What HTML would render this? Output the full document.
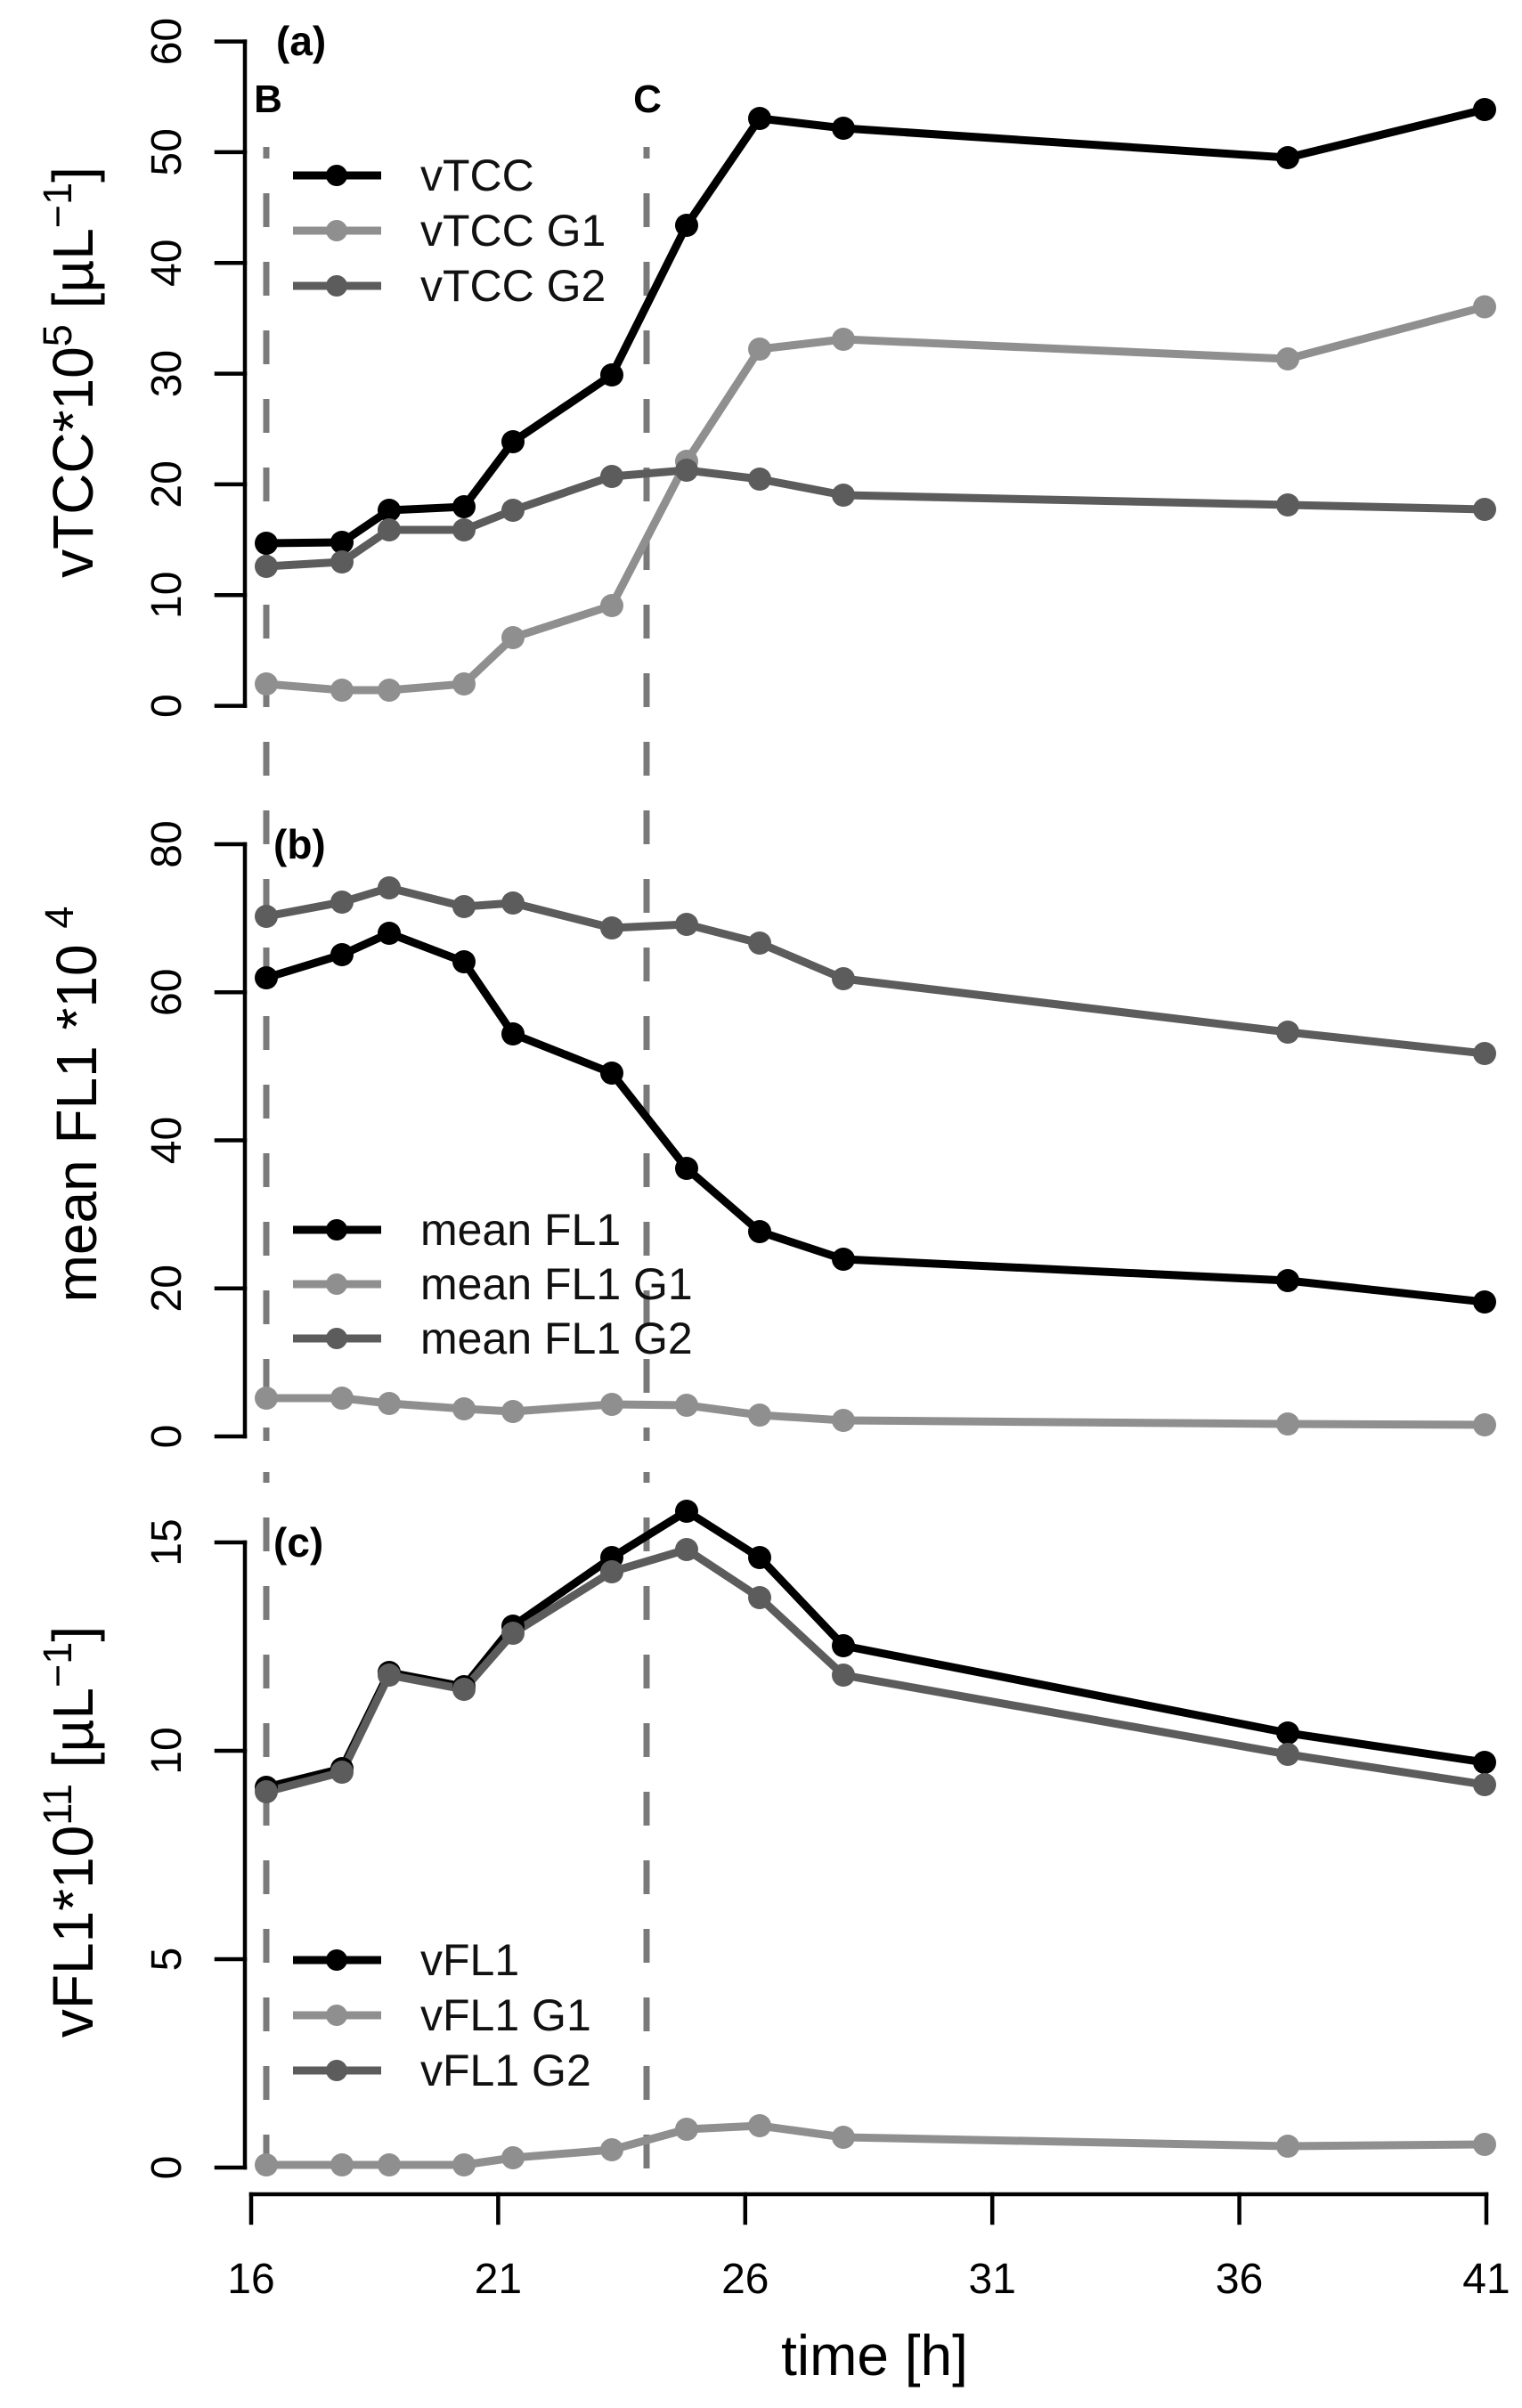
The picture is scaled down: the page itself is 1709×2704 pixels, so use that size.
<!DOCTYPE html>
<html><head><meta charset="utf-8">
<style>html,body{margin:0;padding:0;background:#fff}svg{display:block}</style>
</head>
<body>
<svg width="1709" height="2704" viewBox="0 0 1709 2704" xmlns="http://www.w3.org/2000/svg" font-family="'Liberation Sans', Arial, sans-serif">
<rect width="1709" height="2704" fill="#fff"/>

<!-- dashed vertical lines B and C -->
<g stroke="#7a7a7a" stroke-width="7" stroke-dasharray="38 39" fill="none">
  <line x1="299" y1="165" x2="299" y2="1618" stroke-dashoffset="25"/>
  <line x1="726" y1="165" x2="726" y2="1618" stroke-dashoffset="25"/>
  <line x1="299" y1="1653" x2="299" y2="2440" stroke-dashoffset="26"/>
  <line x1="726" y1="1653" x2="726" y2="2440" stroke-dashoffset="26"/>
</g>
<g font-weight="bold" font-size="44" text-anchor="middle" fill="#000">
  <text x="301" y="126">B</text>
  <text x="727" y="126">C</text>
</g>

<!-- ============ Panel (a) ============ -->
<g stroke="#000" stroke-width="4.5" fill="none" stroke-linecap="square">
  <line x1="275" y1="46.6" x2="275" y2="792.6"/>
  <line x1="243" y1="792.6" x2="275" y2="792.6"/>
  <line x1="243" y1="668.3" x2="275" y2="668.3"/>
  <line x1="243" y1="543.9" x2="275" y2="543.9"/>
  <line x1="243" y1="419.6" x2="275" y2="419.6"/>
  <line x1="243" y1="295.3" x2="275" y2="295.3"/>
  <line x1="243" y1="170.9" x2="275" y2="170.9"/>
  <line x1="243" y1="46.6" x2="275" y2="46.6"/>
</g>
<g font-size="48" text-anchor="middle" fill="#000">
  <text transform="translate(203,792.6) rotate(-90)">0</text>
  <text transform="translate(203,668.3) rotate(-90)">10</text>
  <text transform="translate(203,543.9) rotate(-90)">20</text>
  <text transform="translate(203,419.6) rotate(-90)">30</text>
  <text transform="translate(203,295.3) rotate(-90)">40</text>
  <text transform="translate(203,170.9) rotate(-90)">50</text>
  <text transform="translate(203,46.6) rotate(-90)">60</text>
</g>
<text transform="translate(104,418) rotate(-90)" text-anchor="middle" font-size="64" fill="#000">vTCC*10<tspan dy="-24" font-size="45">5</tspan><tspan dy="24"> [µL</tspan><tspan dy="-24" font-size="45">−1</tspan><tspan dy="24">]</tspan></text>
<text x="310" y="62" font-size="46" font-weight="bold" fill="#000">(a)</text>

<g fill="none" stroke-width="9" stroke-linejoin="round">
  <polyline stroke="#000" points="299,610 384,609 437,573 521,569 576,496 687,421 771,253 853,133 947,144 1446,177 1667,123"/>
  <polyline stroke="#8f8f8f" points="299,768 384,775 437,775 521,768 576,716 687,680 771,518 853,392 947,381 1446,403 1667,344.5"/>
  <polyline stroke="#5c5c5c" points="299,636 384,631 437,595 521,595 576,573 687,535 771,528 853,538 947,556 1446,567 1667,572"/>
</g>
<g fill="#000">
  <circle cx="299" cy="610" r="13"/><circle cx="384" cy="609" r="13"/><circle cx="437" cy="573" r="13"/><circle cx="521" cy="569" r="13"/><circle cx="576" cy="496" r="13"/><circle cx="687" cy="421" r="13"/><circle cx="771" cy="253" r="13"/><circle cx="853" cy="133" r="13"/><circle cx="947" cy="144" r="13"/><circle cx="1446" cy="177" r="13"/><circle cx="1667" cy="123" r="13"/>
</g>
<g fill="#8f8f8f">
  <circle cx="299" cy="768" r="13"/><circle cx="384" cy="775" r="13"/><circle cx="437" cy="775" r="13"/><circle cx="521" cy="768" r="13"/><circle cx="576" cy="716" r="13"/><circle cx="687" cy="680" r="13"/><circle cx="771" cy="518" r="13"/><circle cx="853" cy="392" r="13"/><circle cx="947" cy="381" r="13"/><circle cx="1446" cy="403" r="13"/><circle cx="1667" cy="344.5" r="13"/>
</g>
<g fill="#5c5c5c">
  <circle cx="299" cy="636" r="13"/><circle cx="384" cy="631" r="13"/><circle cx="437" cy="595" r="13"/><circle cx="521" cy="595" r="13"/><circle cx="576" cy="573" r="13"/><circle cx="687" cy="535" r="13"/><circle cx="771" cy="528" r="13"/><circle cx="853" cy="538" r="13"/><circle cx="947" cy="556" r="13"/><circle cx="1446" cy="567" r="13"/><circle cx="1667" cy="572" r="13"/>
</g>
<!-- legend a -->
<g stroke-width="9">
  <line x1="329" y1="197" x2="428" y2="197" stroke="#000"/>
  <line x1="329" y1="259" x2="428" y2="259" stroke="#8f8f8f"/>
  <line x1="329" y1="321" x2="428" y2="321" stroke="#5c5c5c"/>
</g>
<circle cx="378" cy="197" r="12" fill="#000"/>
<circle cx="378" cy="259" r="12" fill="#8f8f8f"/>
<circle cx="378" cy="321" r="12" fill="#5c5c5c"/>
<g font-size="50" fill="#111">
  <text x="472" y="214">vTCC</text>
  <text x="472" y="276">vTCC G1</text>
  <text x="472" y="338">vTCC G2</text>
</g>

<!-- ============ Panel (b) ============ -->
<g stroke="#000" stroke-width="4.5" fill="none" stroke-linecap="square">
  <line x1="275" y1="948" x2="275" y2="1613"/>
  <line x1="243" y1="1613" x2="275" y2="1613"/>
  <line x1="243" y1="1446.75" x2="275" y2="1446.75"/>
  <line x1="243" y1="1280.5" x2="275" y2="1280.5"/>
  <line x1="243" y1="1114.25" x2="275" y2="1114.25"/>
  <line x1="243" y1="948" x2="275" y2="948"/>
</g>
<g font-size="48" text-anchor="middle" fill="#000">
  <text transform="translate(203,1613) rotate(-90)">0</text>
  <text transform="translate(203,1446.75) rotate(-90)">20</text>
  <text transform="translate(203,1280.5) rotate(-90)">40</text>
  <text transform="translate(203,1114.25) rotate(-90)">60</text>
  <text transform="translate(203,948) rotate(-90)">80</text>
</g>
<text transform="translate(108,1240) rotate(-90)" text-anchor="middle" font-size="64" fill="#000">mean FL1 *10 <tspan dy="-26" font-size="45">4</tspan></text>
<text x="307" y="964" font-size="46" font-weight="bold" fill="#000">(b)</text>

<g fill="none" stroke-width="9" stroke-linejoin="round">
  <polyline stroke="#000" points="299,1098 384,1072 437,1048 521,1080 576,1161 687,1205 771,1312 853,1383 947,1414 1446,1438 1667,1462"/>
  <polyline stroke="#8f8f8f" points="299,1570 384,1570 437,1576 521,1582 576,1585 687,1577 771,1578 853,1589 947,1595 1446,1599 1667,1600"/>
  <polyline stroke="#5c5c5c" points="299,1029 384,1013 437,997 521,1018 576,1014 687,1042 771,1038 853,1059 947,1099 1446,1159 1667,1183"/>
</g>
<g fill="#000">
  <circle cx="299" cy="1098" r="13"/><circle cx="384" cy="1072" r="13"/><circle cx="437" cy="1048" r="13"/><circle cx="521" cy="1080" r="13"/><circle cx="576" cy="1161" r="13"/><circle cx="687" cy="1205" r="13"/><circle cx="771" cy="1312" r="13"/><circle cx="853" cy="1383" r="13"/><circle cx="947" cy="1414" r="13"/><circle cx="1446" cy="1438" r="13"/><circle cx="1667" cy="1462" r="13"/>
</g>
<g fill="#8f8f8f">
  <circle cx="299" cy="1570" r="13"/><circle cx="384" cy="1570" r="13"/><circle cx="437" cy="1576" r="13"/><circle cx="521" cy="1582" r="13"/><circle cx="576" cy="1585" r="13"/><circle cx="687" cy="1577" r="13"/><circle cx="771" cy="1578" r="13"/><circle cx="853" cy="1589" r="13"/><circle cx="947" cy="1595" r="13"/><circle cx="1446" cy="1599" r="13"/><circle cx="1667" cy="1600" r="13"/>
</g>
<g fill="#5c5c5c">
  <circle cx="299" cy="1029" r="13"/><circle cx="384" cy="1013" r="13"/><circle cx="437" cy="997" r="13"/><circle cx="521" cy="1018" r="13"/><circle cx="576" cy="1014" r="13"/><circle cx="687" cy="1042" r="13"/><circle cx="771" cy="1038" r="13"/><circle cx="853" cy="1059" r="13"/><circle cx="947" cy="1099" r="13"/><circle cx="1446" cy="1159" r="13"/><circle cx="1667" cy="1183" r="13"/>
</g>
<!-- legend b -->
<g stroke-width="9">
  <line x1="329" y1="1381" x2="428" y2="1381" stroke="#000"/>
  <line x1="329" y1="1442" x2="428" y2="1442" stroke="#8f8f8f"/>
  <line x1="329" y1="1503" x2="428" y2="1503" stroke="#5c5c5c"/>
</g>
<circle cx="378" cy="1381" r="12" fill="#000"/>
<circle cx="378" cy="1442" r="12" fill="#8f8f8f"/>
<circle cx="378" cy="1503" r="12" fill="#5c5c5c"/>
<g font-size="50" fill="#111">
  <text x="472" y="1398">mean FL1</text>
  <text x="472" y="1459">mean FL1 G1</text>
  <text x="472" y="1520">mean FL1 G2</text>
</g>

<!-- ============ Panel (c) ============ -->
<g stroke="#000" stroke-width="4.5" fill="none" stroke-linecap="square">
  <line x1="275" y1="1732" x2="275" y2="2434"/>
  <line x1="243" y1="2434" x2="275" y2="2434"/>
  <line x1="243" y1="2200" x2="275" y2="2200"/>
  <line x1="243" y1="1966" x2="275" y2="1966"/>
  <line x1="243" y1="1732" x2="275" y2="1732"/>
</g>
<g font-size="48" text-anchor="middle" fill="#000">
  <text transform="translate(203,2434) rotate(-90)">0</text>
  <text transform="translate(203,2200) rotate(-90)">5</text>
  <text transform="translate(203,1966) rotate(-90)">10</text>
  <text transform="translate(203,1732) rotate(-90)">15</text>
</g>
<text transform="translate(104,2057) rotate(-90)" text-anchor="middle" font-size="64" fill="#000">vFL1*10<tspan dy="-24" font-size="45">11</tspan><tspan dy="24"> [µL</tspan><tspan dy="-24" font-size="45">−1</tspan><tspan dy="24">]</tspan></text>
<text x="307" y="1748" font-size="46" font-weight="bold" fill="#000">(c)</text>

<g fill="none" stroke-width="9" stroke-linejoin="round">
  <polyline stroke="#000" points="299,2007 384,1986 437,1878 521,1894 576,1826 687,1749 771,1697 853,1749 947,1848 1446,1946 1667,1979"/>
  <polyline stroke="#8f8f8f" points="299,2431 384,2431 437,2431 521,2431 576,2423 687,2414 771,2391 853,2387 947,2400 1446,2410 1667,2408"/>
  <polyline stroke="#5c5c5c" points="299,2012 384,1990 437,1881 521,1897 576,1834 687,1765 771,1740 853,1794 947,1881 1446,1970 1667,2004"/>
</g>
<g fill="#000">
  <circle cx="299" cy="2007" r="13"/><circle cx="384" cy="1986" r="13"/><circle cx="437" cy="1878" r="13"/><circle cx="521" cy="1894" r="13"/><circle cx="576" cy="1826" r="13"/><circle cx="687" cy="1749" r="13"/><circle cx="771" cy="1697" r="13"/><circle cx="853" cy="1749" r="13"/><circle cx="947" cy="1848" r="13"/><circle cx="1446" cy="1946" r="13"/><circle cx="1667" cy="1979" r="13"/>
</g>
<g fill="#8f8f8f">
  <circle cx="299" cy="2431" r="13"/><circle cx="384" cy="2431" r="13"/><circle cx="437" cy="2431" r="13"/><circle cx="521" cy="2431" r="13"/><circle cx="576" cy="2423" r="13"/><circle cx="687" cy="2414" r="13"/><circle cx="771" cy="2391" r="13"/><circle cx="853" cy="2387" r="13"/><circle cx="947" cy="2400" r="13"/><circle cx="1446" cy="2410" r="13"/><circle cx="1667" cy="2408" r="13"/>
</g>
<g fill="#5c5c5c">
  <circle cx="299" cy="2012" r="13"/><circle cx="384" cy="1990" r="13"/><circle cx="437" cy="1881" r="13"/><circle cx="521" cy="1897" r="13"/><circle cx="576" cy="1834" r="13"/><circle cx="687" cy="1765" r="13"/><circle cx="771" cy="1740" r="13"/><circle cx="853" cy="1794" r="13"/><circle cx="947" cy="1881" r="13"/><circle cx="1446" cy="1970" r="13"/><circle cx="1667" cy="2004" r="13"/>
</g>
<!-- legend c -->
<g stroke-width="9">
  <line x1="329" y1="2201" x2="428" y2="2201" stroke="#000"/>
  <line x1="329" y1="2263" x2="428" y2="2263" stroke="#8f8f8f"/>
  <line x1="329" y1="2325" x2="428" y2="2325" stroke="#5c5c5c"/>
</g>
<circle cx="378" cy="2201" r="12" fill="#000"/>
<circle cx="378" cy="2263" r="12" fill="#8f8f8f"/>
<circle cx="378" cy="2325" r="12" fill="#5c5c5c"/>
<g font-size="50" fill="#111">
  <text x="472" y="2218">vFL1</text>
  <text x="472" y="2280">vFL1 G1</text>
  <text x="472" y="2342">vFL1 G2</text>
</g>

<!-- ============ x axis ============ -->
<g stroke="#000" stroke-width="4.5" fill="none" stroke-linecap="square">
  <line x1="282" y1="2464" x2="1669" y2="2464"/>
  <line x1="282" y1="2464" x2="282" y2="2496"/>
  <line x1="559.4" y1="2464" x2="559.4" y2="2496"/>
  <line x1="836.8" y1="2464" x2="836.8" y2="2496"/>
  <line x1="1114.2" y1="2464" x2="1114.2" y2="2496"/>
  <line x1="1391.6" y1="2464" x2="1391.6" y2="2496"/>
  <line x1="1669" y1="2464" x2="1669" y2="2496"/>
</g>
<g font-size="48" text-anchor="middle" fill="#000">
  <text x="282" y="2575">16</text>
  <text x="559.4" y="2575">21</text>
  <text x="836.8" y="2575">26</text>
  <text x="1114.2" y="2575">31</text>
  <text x="1391.6" y="2575">36</text>
  <text x="1669" y="2575">41</text>
</g>
<text x="982" y="2667" text-anchor="middle" font-size="64" fill="#000">time [h]</text>
</svg>
</body>
</html>
